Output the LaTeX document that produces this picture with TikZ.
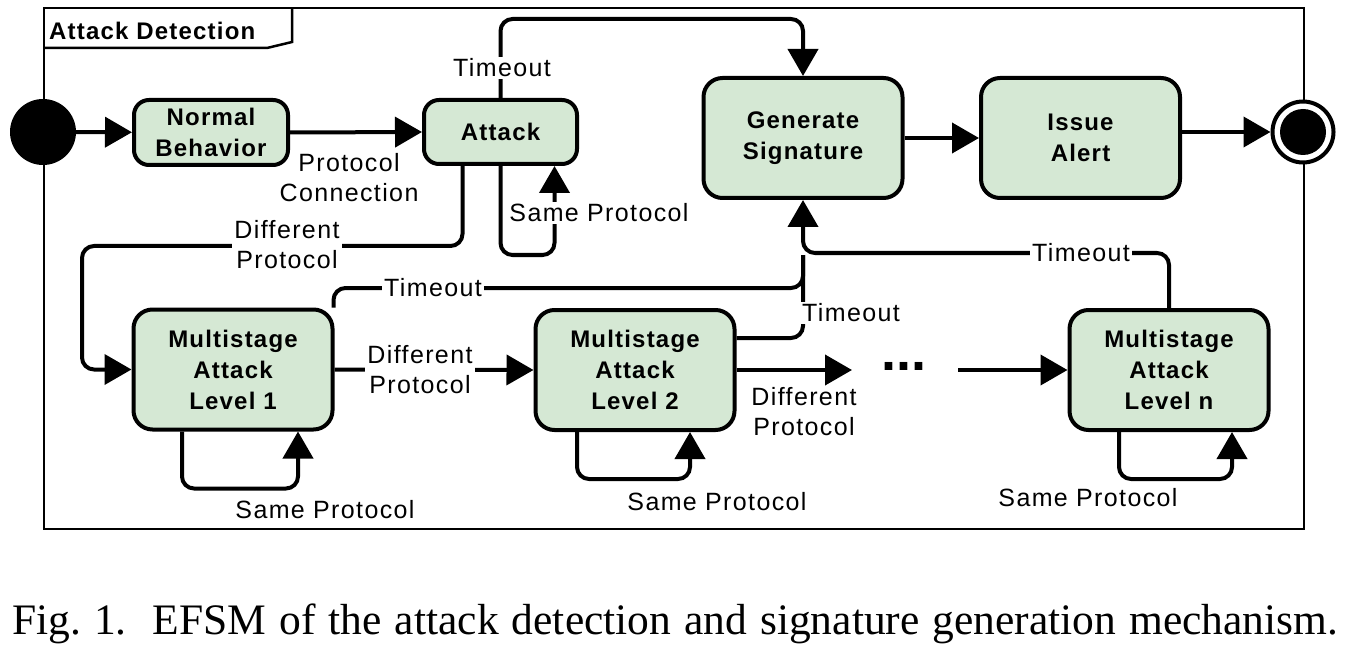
\documentclass[tikz,border=0pt]{standalone}
\usepackage{fontspec}
\setmainfont{Liberation Serif}
\newfontfamily\labfont[LetterSpace=5.5]{Liberation Sans}
\newfontfamily\statefont[LetterSpace=5]{Liberation Sans}
\newfontfamily\plainsans{Liberation Sans}
\usetikzlibrary{arrows.meta,calc}
\definecolor{stategreen}{HTML}{D5E8D4}
\begin{document}
\begin{tikzpicture}[x=1pt,y=-1pt,
  state/.style={draw, line width=4pt, fill=stategreen, rounded corners=15pt, align=center,
    font=\statefont\bfseries\fontsize{24}{31}\selectfont, inner sep=0pt},
  bigstate/.style={state, rounded corners=19pt, minimum width=199pt, minimum height=120pt},
  lab/.style={font=\labfont\fontsize{25}{30}\selectfont, align=center, inner sep=2pt},
  wlab/.style={lab, fill=white},
  conn/.style={line width=4pt, rounded corners=12pt},
  arr/.style={conn, -{Triangle[length=27pt,width=30pt]}},
]
\useasboundingbox (0,0) rectangle (1348,652);
% frame
\draw[line width=2.5pt] (44,8) rectangle (1304,529);
\draw[line width=2.5pt] (44,48) -- (267,48) -- (292,42) -- (292,8);
\node[anchor=west, inner sep=0pt, font=\statefont\bfseries\fontsize{24}{28}\selectfont] (title) at (49,31) {Attack Detection};

% states
\node[state, minimum width=154pt, minimum height=65pt] (normal) at (211,132.5) {Normal\\Behavior};
\node[state, minimum width=153pt, minimum height=64pt] (attack) at (500.5,132) {Attack};
\node[bigstate] (gen) at (803,138) {Generate\\Signature};
\node[bigstate] (issue) at (1080.5,138) {Issue\\Alert};
\node[bigstate] (L1) at (233,369.5) {Multistage\\Attack\\Level 1};
\node[bigstate] (L2) at (635,370) {Multistage\\Attack\\Level 2};
\node[bigstate] (Ln) at (1169,370) {Multistage\\Attack\\Level n};

% pseudo states
\node[circle, fill=black, minimum size=66pt, inner sep=0pt] (init) at (43,132) {};
\node[circle, draw, line width=4pt, fill=white, minimum size=61pt, inner sep=0pt] (final) at (1303,132) {};
\node[circle, fill=black, minimum size=46pt, inner sep=0pt] (finalin) at (final) {};

% top row
\draw[arr] (init) -- (normal);
\draw[arr] (normal.east) -- (attack.west);
\node[lab] (pc) at (349,178) {Protocol\\Connection};
\draw[arr] (gen) -- (issue);
\draw[arr] (issue.east |- final.west) -- (final.west);

% attack timeout
\draw[arr] (attack.north) -- ++(0,-79) -| (gen.north);
\node[wlab] (to1) at (502,68) {Timeout};

% attack self loop
\draw[arr] (attack.south) -- ++(0,89) -| ($(attack.south)+(54,0)$);
\node[wlab] (sp0) at (599,213) {Same Protocol};

% attack -> L1
\coordinate (a1) at ($(attack.south)+(-38,0)$);
\draw[arr] (a1) |- (82,246) |- (L1.west);
\node[wlab] (dp0) at (287,245) {Different\\Protocol};

% L1 self loop
\draw[arr] ($(L1.south)+(-51,0)$) -- ++(0,57) -| ($(L1.south)+(65,0)$);
\node[lab] (sp1) at (325,510) {Same Protocol};

% L1 -> L2
\draw[arr] (L1.east) -- (L2.west);
\node[wlab] (dp1) at (420,370) {Different\\Protocol};

% timeouts to generate
\draw[conn] ($(L1.north east)+(-1,0)$) |- (803,288) -- (803,255);
\node[wlab] (to2) at (433,288) {Timeout};
\draw[conn] ($(L2.east)+(0,-32)$) -| (803,255);
\node[wlab] (to3) at (851,313) {Timeout};
\draw[arr] (Ln.north) |- (803,253) -- (gen.south);
\node[wlab] (to4) at (1081,253) {Timeout};

% L2 self loop and onward
\draw[arr] ($(L2.south)+(-58,0)$) -- ++(0,47) -| ($(L2.south)+(55,0)$);
\node[lab] (sp2) at (717,502) {Same Protocol};
\coordinate (dend) at (852,370);
\draw[arr] (L2.east) -- (dend);
\node[lab] (dp2) at (804,412) {Different\\Protocol};
\node[inner sep=0pt, font=\plainsans\bfseries\fontsize{54}{54}\selectfont] (dots) at (904,366.5) {...};
\coordinate (dstart) at (958,370);
\draw[arr] (dstart) -- (Ln.west);

% Ln self loop
\draw[arr] ($(Ln.south)+(-50,0)$) -- ++(0,47) -| ($(Ln.south)+(63,0)$);
\node[lab] (spn) at (1088,498) {Same Protocol};

% caption
\node[anchor=base west, inner sep=0pt, font=\fontsize{43.5}{50}\selectfont] (cap) at (12,634)
  {\makebox[1326pt][s]{Fig.~1.\ \ EFSM of the attack detection and signature generation mechanism.}};
\end{tikzpicture}
\end{document}
